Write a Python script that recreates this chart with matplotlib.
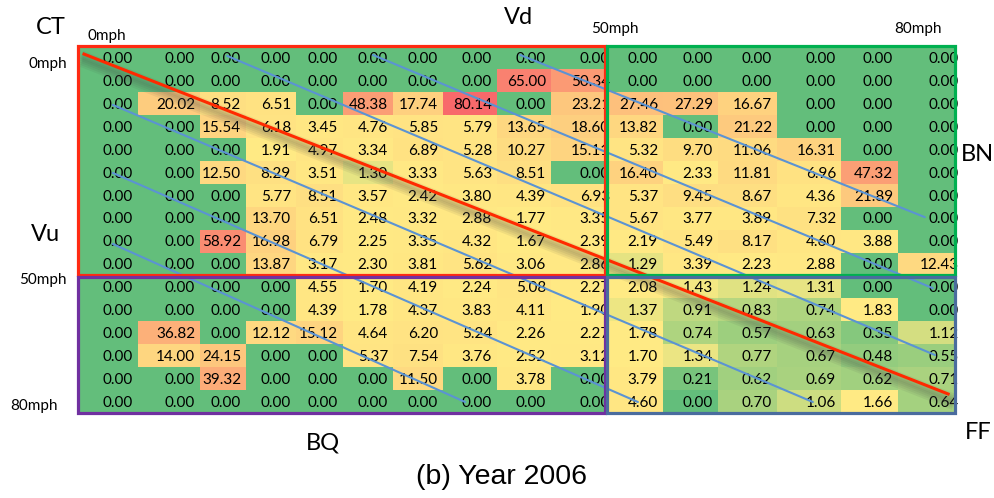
import matplotlib
matplotlib.use('Agg')
import matplotlib.pyplot as plt
import matplotlib.patheffects as pe
from matplotlib.colors import LinearSegmentedColormap, TwoSlopeNorm
from matplotlib.patches import Rectangle
import numpy as np

plt.rcParams['font.family'] = ['Lato', 'DejaVu Sans']

# transition table, rows = Vu (0..80mph), cols = Vd (0..80mph)
# four blocks: CT (top left), BN (top right), BQ (bottom left), FF (bottom right)
ct = [
    [0, 0, 0, 0, 0, 0, 0, 0, 0, 0],
    [0, 0, 0, 0, 0, 0, 0, 0, 65.00, 50.34],
    [0, 20.02, 8.52, 6.51, 0, 48.38, 17.74, 80.14, 0, 23.21],
    [0, 0, 15.54, 6.18, 3.45, 4.76, 5.85, 5.79, 13.65, 18.60],
    [0, 0, 0, 1.91, 4.97, 3.34, 6.89, 5.28, 10.27, 15.11],
    [0, 0, 12.50, 8.29, 3.51, 1.30, 3.33, 5.63, 8.51, 0],
    [0, 0, 0, 5.77, 8.51, 3.57, 2.42, 3.80, 4.39, 6.93],
    [0, 0, 0, 13.70, 6.51, 2.48, 3.32, 2.88, 1.77, 3.35],
    [0, 0, 58.92, 16.98, 6.79, 2.25, 3.35, 4.32, 1.67, 2.39],
    [0, 0, 0, 13.87, 3.17, 2.30, 3.81, 5.62, 3.06, 2.86],
]
bn = [
    [0, 0, 0, 0, 0, 0],
    [0, 0, 0, 0, 0, 0],
    [27.46, 27.29, 16.67, 0, 0, 0],
    [13.82, 0, 21.22, 0, 0, 0],
    [5.32, 9.70, 11.06, 16.31, 0, 0],
    [16.40, 2.33, 11.81, 6.96, 47.32, 0],
    [5.37, 9.45, 8.67, 4.36, 21.89, 0],
    [5.67, 3.77, 3.89, 7.32, 0, 0],
    [2.19, 5.49, 8.17, 4.60, 3.88, 0],
    [1.29, 3.39, 2.23, 2.88, 0, 12.43],
]
bq = [
    [0, 0, 0, 0, 4.55, 1.70, 4.19, 2.24, 5.08, 2.27],
    [0, 0, 0, 0, 4.39, 1.78, 4.37, 3.83, 4.11, 1.90],
    [0, 36.82, 0, 12.12, 15.12, 4.64, 6.20, 5.24, 2.26, 2.27],
    [0, 14.00, 24.15, 0, 0, 5.37, 7.54, 3.76, 2.52, 3.12],
    [0, 0, 39.32, 0, 0, 0, 11.50, 0, 3.78, 0],
    [0, 0, 0, 0, 0, 0, 0, 0, 0, 0],
]
ff = [
    [2.08, 1.43, 1.24, 1.31, 0, 0],
    [1.37, 0.91, 0.83, 0.74, 1.83, 0],
    [1.78, 0.74, 0.57, 0.63, 0.35, 1.12],
    [1.70, 1.34, 0.77, 0.67, 0.48, 0.55],
    [3.79, 0.21, 0.62, 0.69, 0.62, 0.71],
    [4.60, 0, 0.70, 1.06, 1.66, 0.64],
]

vals = np.block([[np.array(ct), np.array(bn)], [np.array(bq), np.array(ff)]])
nr, nc = vals.shape

# spreadsheet column widths (px), rows are all the same height
col_w = [60, 62, 46, 50, 47, 50, 50, 54, 54, 55, 57, 55, 59, 64, 57, 57]
xe = np.concatenate([[0], np.cumsum(col_w)])
ye = np.arange(nr + 1)

# excel style 3 colour scale: min green, median yellow, max red
cmap = LinearSegmentedColormap.from_list('gyr', ['#63BE7B', '#FFEB84', '#F8696B'])
norm = TwoSlopeNorm(vmin=vals.min(), vcenter=np.percentile(vals, 50), vmax=vals.max())

fig = plt.figure(figsize=(9.95, 4.98), dpi=100)
W, H = 995, 498
ax = fig.add_axes([78 / W, 1 - 413 / H, xe[-1] / W, (413 - 46.5) / H])
ax.pcolormesh(xe, ye, vals, cmap=cmap, norm=norm, edgecolors='none', antialiased=False, zorder=1)
ax.set_xlim(xe[0], xe[-1])
ax.set_ylim(nr, 0)
ax.axis('off')

# block outlines
split = 10
boxes = [
    (xe[0], 0, xe[split] - 1, split - 0.04, '#FF2A12'),
    (xe[split] + 1.5, 0, xe[-1], split - 0.04, '#00B050'),
    (xe[0], split + 0.08, xe[split] - 1, nr, '#7030A0'),
    (xe[split] + 1.5, split + 0.08, xe[-1], nr, '#4A6C9E'),
]
rects = []
for x0, y0, x1, y1, c in boxes:
    r = Rectangle((x0, y0), x1 - x0, y1 - y0, fill=False, ec=c, lw=2.3, zorder=5, clip_on=False)
    ax.add_patch(r)
    rects.append(r)

# numbers, right aligned like a spreadsheet
for i in range(nr):
    for j in range(nc):
        last = (j == split - 1) or (j == nc - 1)
        xr = xe[j + 1] + (4 if last else -5)
        t = ax.text(xr, i + 0.55, '%.2f' % vals[i, j], ha='right', va='center',
                    fontsize=11, color='black', zorder=2)
        blk = (0 if i < split else 2) + (0 if j < split else 1)
        t.set_clip_path(rects[blk])

def to_xy(c, r):
    return np.interp(c, np.arange(nc + 1), xe), r

# blue guide lines (column, row) endpoints
blue_lines = [
    ((8.43, 0.37), (15.47, 7.45)),
    ((5.60, 0.37), (15.61, 10.55)),
    ((2.59, 0.41), (15.65, 13.47)),
    ((0.58, 2.55), (13.56, 15.52)),
    ((0.58, 5.52), (10.56, 15.52)),
    ((0.58, 8.62), (7.41, 15.52)),
]
for (c0, r0), (c1, r1) in blue_lines:
    xa, ya = to_xy(c0, r0)
    xb, yb = to_xy(c1, r1)
    ax.plot([xa, xb], [ya, yb], color='#5B93D3', lw=1.5, zorder=3, solid_capstyle='round')

# red diagonal with soft shadow
xa, ya = to_xy(0.10, 0.33)
xb, yb = to_xy(15.88, 15.17)
shadow = [pe.SimpleLineShadow(offset=(1, -d), shadow_color='#404040', alpha=0.08, linewidth=6)
          for d in (1.5, 3, 4.5, 6, 7.5)]
ax.plot([xa, xb], [ya, yb], color='#FF2A00', lw=2.2, zorder=4,
        path_effects=shadow + [pe.Normal()])

# labels around the table (figure pixel positions)
def ftext(x, y, s, **kw):
    fig.text(x / W, 1 - y / H, s, **kw)

big = dict(fontsize=17, va='center')
ftext(51, 27, 'CT', ha='center', **big)
ftext(518, 18, 'Vd', ha='center', **big)
ftext(994, 154, 'BN', ha='right', **big)
ftext(45, 234, 'Vu', ha='center', **big)
ftext(323, 443, 'BQ', ha='center', **big)
ftext(965, 432, 'FF', ha='left', **big)

small = dict(fontsize=11, va='center')
ftext(88, 36, '0mph', ha='left', **small)
ftext(615, 29, '50mph', ha='center', **small)
ftext(918, 29, '80mph', ha='center', **small)
ftext(67, 64, '0mph', ha='right', **small)
ftext(67, 280, '50mph', ha='right', **small)
ftext(58, 406, '80mph', ha='right', **small)

ftext(502, 477, '(b) Year 2006', ha='center', va='center', fontsize=20.5,
      family=['Liberation Sans', 'DejaVu Sans'])

fig.savefig('out.png', dpi=100)
